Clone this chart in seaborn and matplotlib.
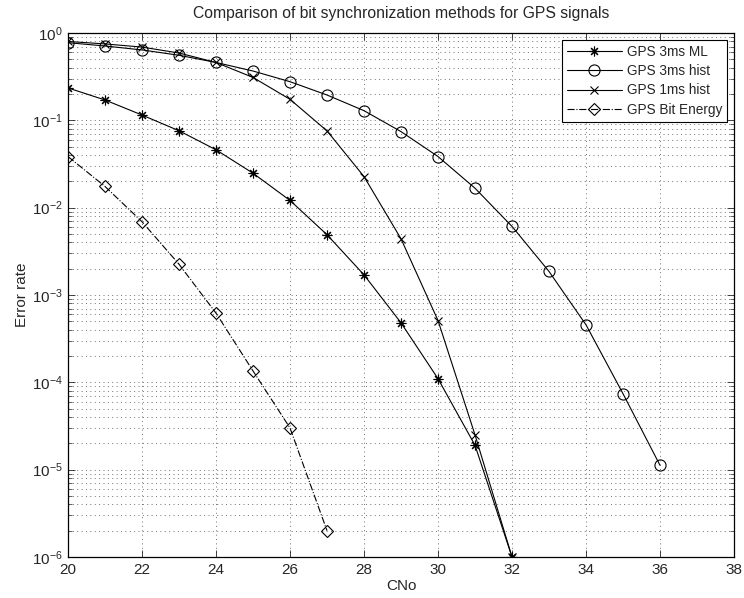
import matplotlib
matplotlib.use("Agg")
import matplotlib.pyplot as plt
import matplotlib.ticker as mticker
import numpy as np
import pandas as pd
import seaborn as sns

# CNo values for each curve
cno_ml = [20, 21, 22, 23, 24, 25, 26, 27, 28, 29, 30, 31, 32]
err_ml = [0.235, 0.171, 0.115, 0.076, 0.046, 0.0248, 0.0121, 0.0049, 0.0017,
          4.8e-4, 1.1e-4, 1.9e-5, 1.0e-6]

cno_3hist = [20, 21, 22, 23, 24, 25, 26, 27, 28, 29, 30, 31, 32, 33, 34, 35, 36]
err_3hist = [0.775, 0.71, 0.64, 0.556, 0.46, 0.367, 0.277, 0.195, 0.129, 0.0743,
             0.0385, 0.0167, 0.0061, 1.86e-3, 4.55e-4, 7.4e-5, 1.12e-5]

cno_1hist = [20, 21, 22, 23, 24, 25, 26, 27, 28, 29, 30, 31, 32]
err_1hist = [0.80, 0.75, 0.69, 0.59, 0.46, 0.31, 0.174, 0.0757, 0.0227, 0.0044,
             5.1e-4, 2.5e-5, 1.0e-6]

cno_bit = [20, 21, 22, 23, 24, 25, 26, 27]
err_bit = [0.0385, 0.0175, 6.9e-3, 2.25e-3, 6.2e-4, 1.35e-4, 3.0e-5, 2.0e-6]

labels = ['GPS 3ms ML', 'GPS 3ms hist', 'GPS 1ms hist', 'GPS Bit Energy']

sns.set_style("ticks")
plt.rcParams['font.family'] = ['Liberation Sans', 'DejaVu Sans']
plt.rcParams['mathtext.default'] = 'regular'
plt.rcParams['font.size'] = 11

fig = plt.figure(figsize=(7.44, 5.98), dpi=100)
ax = fig.add_axes([0.0914, 0.0686, 0.8952, 0.8762])

series = [
    (cno_ml, err_ml, labels[0], dict(marker=(8, 2, 0), ms=7, ls='-')),
    (cno_3hist, err_3hist, labels[1], dict(marker='o', ms=8, ls='-', mfc='none')),
    (cno_1hist, err_1hist, labels[2], dict(marker='x', ms=6, ls='-')),
    (cno_bit, err_bit, labels[3], dict(marker='D', ms=6.5, ls='-.', mfc='none')),
]

for x, y, lab, st in series:
    df = pd.DataFrame({'CNo': x, 'err': y})
    sns.lineplot(data=df, x='CNo', y='err', ax=ax, color='k', lw=0.8,
                 mec='k', mew=0.8, label=lab, **st)

ax.set_yscale('log')
ax.set_xlim(20, 38)
ax.set_ylim(1e-6, 1)
ax.set_xticks(np.arange(20, 39, 2))
ax.yaxis.set_major_locator(mticker.LogLocator(base=10, numticks=10))
ax.yaxis.set_minor_locator(mticker.LogLocator(base=10, subs=np.arange(2, 10), numticks=20))
ax.yaxis.set_minor_formatter(mticker.NullFormatter())

ax.tick_params(which='both', direction='in', top=True, right=True, labelsize=11)
ax.tick_params(which='major', length=5, width=0.6, pad=4)
ax.tick_params(which='minor', length=3, width=0.5)

grid_style = dict(ls=(0, (1, 3.5)), lw=0.7, color='#707070')
ax.grid(True, which='major', axis='both', **grid_style)
ax.grid(True, which='minor', axis='y', **grid_style)

for sp in ax.spines.values():
    sp.set_linewidth(0.9)
    sp.set_color('k')

ax.set_xlabel('CNo', fontsize=11, labelpad=2)
ax.set_ylabel('Error rate', fontsize=11, labelpad=2)
ax.set_title('Comparison of bit synchronization methods for GPS signals',
             fontsize=11.3, pad=11)

leg = ax.legend(loc='upper right', fontsize=9.8, frameon=True, fancybox=False,
                edgecolor='k', framealpha=1, borderaxespad=0.5,
                handlelength=4.0, labelspacing=0.4, borderpad=0.35,
                handletextpad=0.4)
leg.get_frame().set_linewidth(0.8)

fig.savefig('out.png', dpi=100)
